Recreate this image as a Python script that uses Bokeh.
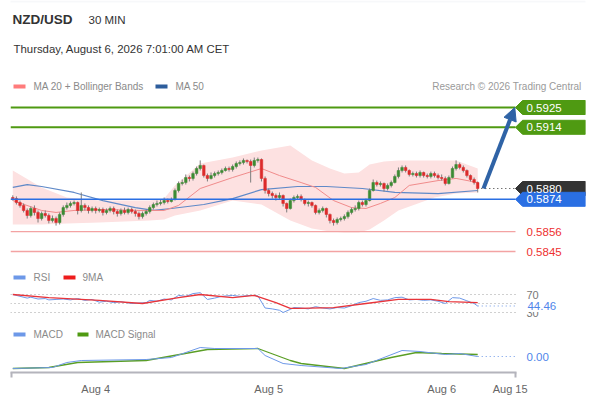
from bokeh.plotting import figure
from bokeh.models import Range1d, FixedTicker, Label, BoxAnnotation, Arrow, NormalHead
from bokeh.embed import file_html
from bokeh.resources import INLINE

FONT = "Liberation Sans"

# ---------------- data ----------------
first_open = 0.58750
closes = [
    0.58744, 0.58722, 0.58706, 0.58678, 0.58650, 0.58689, 0.58667, 0.58633, 0.58661, 0.58650,
    0.58622, 0.58633, 0.58611, 0.58656, 0.58694, 0.58706, 0.58717, 0.58722, 0.58678, 0.58706,
    0.58694, 0.58678, 0.58689, 0.58678, 0.58683, 0.58667, 0.58678, 0.58689, 0.58672, 0.58661,
    0.58678, 0.58667, 0.58683, 0.58672, 0.58661, 0.58644, 0.58661, 0.58672, 0.58694, 0.58711,
    0.58717, 0.58722, 0.58733, 0.58728, 0.58739, 0.58789, 0.58828, 0.58833, 0.58861, 0.58856,
    0.58883, 0.58911, 0.58928, 0.58872, 0.58856, 0.58872, 0.58883, 0.58889, 0.58900, 0.58911,
    0.58906, 0.58922, 0.58939, 0.58944, 0.58956, 0.58950, 0.58928, 0.58956, 0.58961, 0.58856,
    0.58789, 0.58772, 0.58761, 0.58750, 0.58761, 0.58717, 0.58689, 0.58733, 0.58750, 0.58756,
    0.58739, 0.58717, 0.58722, 0.58706, 0.58667, 0.58678, 0.58689, 0.58656, 0.58622, 0.58611,
    0.58628, 0.58633, 0.58644, 0.58667, 0.58683, 0.58689, 0.58722, 0.58711, 0.58733, 0.58789,
    0.58833, 0.58822, 0.58828, 0.58800, 0.58817, 0.58833, 0.58867, 0.58900, 0.58917, 0.58900,
    0.58878, 0.58883, 0.58872, 0.58889, 0.58872, 0.58867, 0.58883, 0.58872, 0.58861, 0.58856,
    0.58828, 0.58861, 0.58911, 0.58933, 0.58917, 0.58900, 0.58872, 0.58850, 0.58833, 0.58800,
]
highs = [
    0.58762, 0.58756, 0.58733, 0.58717, 0.58689, 0.58700, 0.58706, 0.58678, 0.58672, 0.58678,
    0.58661, 0.58650, 0.58644, 0.58667, 0.58706, 0.58722, 0.58728, 0.58733, 0.58728, 0.58778,
    0.58717, 0.58706, 0.58700, 0.58700, 0.58694, 0.58694, 0.58689, 0.58700, 0.58700, 0.58683,
    0.58689, 0.58694, 0.58694, 0.58694, 0.58683, 0.58672, 0.58672, 0.58683, 0.58706, 0.58722,
    0.58733, 0.58739, 0.58750, 0.58744, 0.58750, 0.58800, 0.58839, 0.58850, 0.58878, 0.58872,
    0.58894, 0.58922, 0.58956, 0.58933, 0.58883, 0.58889, 0.58894, 0.58900, 0.58911, 0.58922,
    0.58922, 0.58933, 0.58950, 0.58956, 0.58967, 0.58961, 0.58961, 0.58972, 0.58972, 0.58967,
    0.58867, 0.58800, 0.58783, 0.58772, 0.58778, 0.58767, 0.58722, 0.58744, 0.58761, 0.58767,
    0.58767, 0.58744, 0.58733, 0.58728, 0.58711, 0.58689, 0.58700, 0.58694, 0.58661, 0.58633,
    0.58639, 0.58644, 0.58656, 0.58678, 0.58694, 0.58706, 0.58733, 0.58733, 0.58744, 0.58800,
    0.58850, 0.58844, 0.58839, 0.58833, 0.58828, 0.58844, 0.58878, 0.58917, 0.58928, 0.58928,
    0.58906, 0.58894, 0.58894, 0.58900, 0.58894, 0.58883, 0.58894, 0.58894, 0.58883, 0.58878,
    0.58867, 0.58872, 0.58922, 0.58956, 0.58944, 0.58928, 0.58906, 0.58878, 0.58861, 0.58839,
]
lows = [
    0.58733, 0.58711, 0.58694, 0.58667, 0.58633, 0.58639, 0.58650, 0.58611, 0.58622, 0.58639,
    0.58606, 0.58611, 0.58594, 0.58600, 0.58644, 0.58683, 0.58694, 0.58706, 0.58656, 0.58667,
    0.58678, 0.58661, 0.58667, 0.58661, 0.58667, 0.58650, 0.58656, 0.58667, 0.58656, 0.58644,
    0.58650, 0.58656, 0.58656, 0.58661, 0.58644, 0.58628, 0.58633, 0.58650, 0.58661, 0.58683,
    0.58700, 0.58706, 0.58711, 0.58717, 0.58722, 0.58733, 0.58778, 0.58817, 0.58822, 0.58839,
    0.58844, 0.58872, 0.58900, 0.58861, 0.58839, 0.58850, 0.58861, 0.58872, 0.58878, 0.58894,
    0.58894, 0.58894, 0.58911, 0.58928, 0.58933, 0.58939, 0.58833, 0.58917, 0.58944, 0.58839,
    0.58772, 0.58756, 0.58744, 0.58733, 0.58739, 0.58700, 0.58667, 0.58683, 0.58722, 0.58739,
    0.58728, 0.58706, 0.58700, 0.58694, 0.58656, 0.58656, 0.58667, 0.58639, 0.58606, 0.58594,
    0.58600, 0.58617, 0.58622, 0.58633, 0.58656, 0.58672, 0.58678, 0.58700, 0.58700, 0.58728,
    0.58783, 0.58811, 0.58811, 0.58783, 0.58789, 0.58806, 0.58828, 0.58856, 0.58889, 0.58889,
    0.58867, 0.58867, 0.58861, 0.58861, 0.58861, 0.58856, 0.58856, 0.58861, 0.58850, 0.58844,
    0.58817, 0.58822, 0.58856, 0.58900, 0.58906, 0.58889, 0.58861, 0.58839, 0.58822, 0.58778,
]

ma20_idx = [0, 8, 12, 17, 26, 35, 42, 46, 52, 61, 69, 74, 80, 84, 89, 94, 98, 102, 106, 110, 118, 123, 129]
ma20_val = [0.58733, 0.58678, 0.58667, 0.58678, 0.58683, 0.58678, 0.58678, 0.58706, 0.58800, 0.58861,
            0.58911, 0.58872, 0.58833, 0.58806, 0.58733, 0.58694, 0.58689, 0.58717, 0.58750, 0.58817,
            0.58844, 0.58856, 0.58833]

ma50_idx = [0, 4, 8, 17, 25, 34, 39, 44, 53, 61, 69, 79, 87, 97, 106, 118, 129]
ma50_val = [0.58806, 0.58822, 0.58811, 0.58778, 0.58733, 0.58694, 0.58678, 0.58689, 0.58711, 0.58744,
            0.58794, 0.58811, 0.58811, 0.58800, 0.58778, 0.58772, 0.58789]

bb_idx = [0, 8, 15, 24, 38, 42, 45, 52, 61, 69, 77, 83, 88, 92, 96, 99, 103, 107, 117, 123, 129]
bb_upper = [0.58900, 0.58806, 0.58750, 0.58733, 0.58733, 0.58744, 0.58817, 0.58939, 0.58972, 0.59011,
            0.59039, 0.58956, 0.58911, 0.58883, 0.58889, 0.58933, 0.58950, 0.58956, 0.58956, 0.58956,
            0.58911]
bb_lower = [0.58600, 0.58600, 0.58606, 0.58611, 0.58622, 0.58628, 0.58650, 0.58678, 0.58733, 0.58711,
            0.58622, 0.58578, 0.58561, 0.58556, 0.58556, 0.58572, 0.58622, 0.58678, 0.58750, 0.58772,
            0.58778]

rsi_idx = [0, 2, 4, 5, 7, 9, 10, 12, 14, 16, 18, 20, 22, 24, 26, 28, 30, 33, 35, 37,
           38, 40, 42, 44, 46, 48, 50, 52, 54, 56, 58, 61, 63, 66, 68, 70, 72, 74, 75, 77,
           78, 80, 82, 84, 86, 88, 90, 92, 94, 96, 98, 100, 102, 104, 106, 108, 110, 112, 114, 116,
           118, 120, 122, 124, 126, 128, 129]
rsi_val = [70, 66, 62, 64, 60, 61, 58, 59, 60, 58, 61, 57, 59, 53, 55, 52, 54, 50, 51, 52,
           57, 55, 60, 58, 68, 66, 72, 74, 59, 62, 66, 68, 66, 68, 67, 40, 38, 35, 30, 37,
           41, 40, 38, 43, 40, 38, 41, 40, 45, 52, 55, 61, 57, 58, 63, 64, 58, 59, 57, 58,
           55, 50, 63, 62, 56, 50, 44.46]
rsi_ma_idx = [0, 10, 24, 36, 46, 52, 61, 67, 73, 77, 79, 89, 98, 107, 116, 121, 129]
rsi_ma_val = [70, 63, 57, 50, 63, 70, 63, 68, 52, 39, 39, 41, 50, 59, 59, 54, 52]
rsi_levels = [70, 50, 30]
rsi_level_labels = ["70", "", "30"]

macd_idx = [0, 11, 15, 19, 37, 44, 52, 56, 68, 70, 75, 80, 91, 98, 103, 108, 113, 120, 124, 129]
macd_val = [-0.00012, -0.00011, -0.00006, -0.00004, -0.00003, -0.00001, 0.00009, 0.00008, 0.00008, 0.00001,
            -0.00007, -0.00009, -0.00012, -0.00008, -0.00001, 0.00006, 0.00005, 0.00002, 0.00003, 0.00000]
signal_idx = [0, 10, 18, 37, 54, 68, 77, 80, 92, 105, 112, 119, 129]
signal_val = [-0.00012, -0.00011, -0.00006, -0.00004, 0.00007, 0.00008, -0.00004, -0.00007, -0.00012,
              -0.00001, 0.00004, 0.00003, 0.00002]

resistances = [0.5925, 0.5914]
supports = [0.5856, 0.5845]
pivot = 0.5874
last_price = 0.5880

tick_idx = [23, 71, 119, 138]
tick_labels = ["Aug 4", "Aug 5", "Aug 6", "Aug 15"]

# ---------------- geometry / styles ----------------
FIG_W, FIG_H = 590, 400
FRAME_L, FRAME_R, FRAME_T, FRAME_B = 10, 585, 0, 372      # page pixels (page has no margin)
X_FIRST, DX = 12.3, 3.604                                 # page x of candle 0, px per candle
AXIS_END_X = 516
TIP_X, BODY_X, TEXT_X = 515, 522, 526

PRICE_REF, PRICE_REF_Y, PX_PER_PRICE = 0.5925, 107.0, 18000.0
RSI_REF, RSI_REF_Y, PX_PER_RSI = 50.0, 303.0, 0.45
MACD_REF_Y, PX_PER_MACD = 356.0, 100000.0
BOX_H = 14

GREEN_LVL = "#4f9a12"
BLUE_LVL = "#2a6fe3"
RED_LVL = "#f3a3a3"
RED_TXT = "#ee3030"
UP_C, DOWN_C, WICK_C = "#3d8b34", "#dc2b2b", "#7d7d7d"
GRAY_TXT = "#8a8a8a"
RSI_C, RSI_MA_C = "#6d98e8", "#e8343a"
MACD_C, SIG_C = "#6d98e8", "#5a9e25"
ARROW_C = "#2f63a6"


def ix(px):
    return (px - X_FIRST) / DX


def price_at(py):
    return PRICE_REF + (PRICE_REF_Y - py) / PX_PER_PRICE


def rsi_at(py):
    return RSI_REF + (RSI_REF_Y - py) / PX_PER_RSI


def macd_at(py):
    return (MACD_REF_Y - py) / PX_PER_MACD


p = figure(width=FIG_W, height=FIG_H,
           x_range=Range1d(ix(FRAME_L), ix(FRAME_R)),
           y_range=Range1d(price_at(FRAME_B), price_at(FRAME_T)),
           output_backend="svg", toolbar_location=None, y_axis_location=None,
           min_border_left=FRAME_L, min_border_right=FIG_W - FRAME_R, min_border_top=FRAME_T,
           min_border_bottom=FIG_H - FRAME_B,
           outline_line_color=None, background_fill_color="white", border_fill_color="white")
p.extra_y_ranges = {"rsi": Range1d(rsi_at(FRAME_B), rsi_at(FRAME_T)),
                    "macd": Range1d(macd_at(FRAME_B), macd_at(FRAME_T))}
p.xgrid.visible = False
p.ygrid.visible = False

# x axis
ax = p.xaxis[0]
ax.ticker = FixedTicker(ticks=tick_idx, minor_ticks=[ix(FRAME_L) + 0.15, ix(AXIS_END_X) - 0.15])
ax.major_label_overrides = {t: lab for t, lab in zip(tick_idx, tick_labels)}
ax.bounds = (ix(FRAME_L), ix(AXIS_END_X))
ax.axis_line_color = "#b4b4bc"
ax.axis_line_width = 2
ax.major_tick_line_color = None
ax.major_tick_out = 0
ax.major_tick_in = 0
ax.minor_tick_line_color = "#b4b4bc"
ax.minor_tick_line_width = 2
ax.minor_tick_out = 5
ax.minor_tick_in = 0
ax.major_label_standoff = 5
ax.major_label_text_font = FONT
ax.major_label_text_font_size = "11px"
ax.major_label_text_color = "#666666"

# ---------------- price panel ----------------
p.varea(x=bb_idx, y1=bb_lower, y2=bb_upper, fill_color="#fde1e1", fill_alpha=1.0)
p.line(ma50_idx, ma50_val, line_color="#5f89c8", line_width=1.2)
p.line(ma20_idx, ma20_val, line_color="#f08b8b", line_width=1.0)

x_left = ix(FRAME_L)
x_tip = ix(TIP_X)
x_body = ix(BODY_X)
x_right = ix(FRAME_R)

# support lines
p.segment(x0=[x_left] * len(supports), x1=[x_tip] * len(supports), y0=supports, y1=supports,
          line_color=RED_LVL, line_width=1.3)

# candles
n = len(closes)
idx = list(range(n))
opens = [first_open] + closes[:-1]
cols = [UP_C if c >= o else DOWN_C for o, c in zip(opens, closes)]
tops = [max(o, c) for o, c in zip(opens, closes)]
bots = [min(o, c) for o, c in zip(opens, closes)]
p.segment(x0=idx, x1=idx, y0=lows, y1=highs, line_color=WICK_C, line_width=1)
p.vbar(x=idx, width=0.72, top=tops, bottom=bots, fill_color=cols, line_color=cols, line_width=0.5)

# resistance / pivot lines
p.segment(x0=[x_left] * len(resistances), x1=[x_tip] * len(resistances), y0=resistances, y1=resistances,
          line_color=GREEN_LVL, line_width=2)
p.segment(x0=[x_left], x1=[x_tip], y0=[pivot], y1=[pivot], line_color=BLUE_LVL, line_width=1.5)
p.segment(x0=[n], x1=[x_tip], y0=[last_price], y1=[last_price], line_color="#333333",
          line_width=1, line_dash="1 3")

# label boxes
half = BOX_H / 2 / PX_PER_PRICE


def box(level):
    return ([x_tip, x_body, x_right, x_right, x_body],
            [level, level + half, level + half, level - half, level - half])


box_levels = resistances + [last_price, pivot]
box_cols = [GREEN_LVL, GREEN_LVL, "#333333", BLUE_LVL]
xs, ys = zip(*[box(v) for v in box_levels])
p.patches(xs=list(xs), ys=list(ys), fill_color=box_cols, line_color=box_cols)
for v in box_levels:
    p.add_layout(Label(x=ix(TEXT_X), y=v, text=f"{v:.4f}", text_font=FONT, text_font_size="11.5px",
                       text_color="white", text_baseline="middle"))
for v in supports:
    p.add_layout(Label(x=ix(TEXT_X), y=v, text=f"{v:.4f}", text_font=FONT, text_font_size="11.5px",
                       text_color=RED_TXT, text_baseline="middle"))

# arrow
p.add_layout(Arrow(end=NormalHead(size=13, fill_color=ARROW_C, line_color=ARROW_C),
                   x_start=n + 0.6, y_start=last_price, x_end=x_tip - 0.2, y_end=resistances[0],
                   line_color=ARROW_C, line_width=4))

# ---------------- RSI panel ----------------
p.segment(x0=[x_left] * 3, x1=[ix(AXIS_END_X)] * 3, y0=rsi_levels, y1=rsi_levels,
          line_color="#a0a0a0", line_width=1, line_dash="1 3", y_range_name="rsi")
p.segment(x0=[rsi_idx[-1]], x1=[ix(AXIS_END_X)], y0=[rsi_val[-1]], y1=[rsi_val[-1]],
          line_color=RSI_C, line_width=1, line_dash="1 3", y_range_name="rsi")
p.line(rsi_idx, rsi_val, line_color=RSI_C, line_width=1, y_range_name="rsi")
p.line(rsi_ma_idx, rsi_ma_val, line_color=RSI_MA_C, line_width=1.3, y_range_name="rsi")
for lv, lab in zip(rsi_levels, rsi_level_labels):
    if lab:
        p.add_layout(Label(x=ix(TEXT_X), y=lv, text=lab, text_font=FONT, text_font_size="11px",
                           text_color="#777777", text_baseline="middle", y_range_name="rsi"))
p.add_layout(Label(x=ix(TEXT_X) - 0.3, y=rsi_val[-1], text=f"{rsi_val[-1]:.2f}", text_font=FONT,
                   text_font_size="11.5px", text_color="#4f86ea", text_baseline="middle",
                   background_fill_color="white", padding=2, y_range_name="rsi"))

# ---------------- MACD panel ----------------
p.segment(x0=[macd_idx[-1]], x1=[ix(AXIS_END_X)], y0=[macd_val[-1]], y1=[macd_val[-1]],
          line_color=MACD_C, line_width=1, line_dash="1 3", y_range_name="macd")
p.line(signal_idx, signal_val, line_color=SIG_C, line_width=1.3, y_range_name="macd")
p.line(macd_idx, macd_val, line_color=MACD_C, line_width=1, y_range_name="macd")
p.add_layout(Label(x=ix(TEXT_X), y=macd_val[-1], text=f"{macd_val[-1]:.2f}", text_font=FONT,
                   text_font_size="11.5px", text_color="#4f86ea", text_baseline="middle",
                   y_range_name="macd"))


# ---------------- header & legends (screen units relative to frame) ----------------
def txt(xp, yp, s, size, color, bold=False, align="left"):
    p.add_layout(Label(x=xp - FRAME_L, y=FRAME_B - yp, x_units="screen", y_units="screen", text=s,
                       text_font=FONT, text_font_size=f"{size}px", text_color=color,
                       text_font_style="bold" if bold else "normal", text_align=align,
                       text_baseline="middle"))


def swatch(x0, x1, yp, color):
    p.add_layout(BoxAnnotation(left=x0 - FRAME_L, right=x1 - FRAME_L, bottom=FRAME_B - yp - 2,
                               top=FRAME_B - yp + 2, left_units="screen", right_units="screen",
                               top_units="screen", bottom_units="screen",
                               fill_color=color, fill_alpha=1.0, line_color=None))


txt(12, 19, "NZD/USD", 13.5, "#333333", bold=True)
txt(88, 19, "30 MIN", 11.5, "#333333")
txt(13, 48, "Thursday, August 6, 2026 7:01:00 AM CET", 11.4, "#333333")

swatch(13, 25, 86, "#ff7b7b")
txt(33, 86, "MA 20 + Bollinger Bands", 10, GRAY_TXT)
swatch(155, 167, 86, "#2d5d9c")
txt(175, 86, "MA 50", 10, GRAY_TXT)
txt(581, 86, "Research \u00a9 2026 Trading Central", 10, "#9a9a9a", align="right")

swatch(13, 25, 277, RSI_C)
txt(33, 277, "RSI", 10, GRAY_TXT)
swatch(63, 75, 277, "#ee1c1c")
txt(82, 277, "9MA", 10, GRAY_TXT)

swatch(13, 25, 334, RSI_C)
txt(33, 334, "MACD", 10, GRAY_TXT)
swatch(77, 88, 334, "#4f9a12")
txt(95, 334, "MACD Signal", 10, GRAY_TXT)

# light outer frame of the whole card
p.add_layout(BoxAnnotation(left=-FRAME_L + 1, right=FIG_W - FRAME_L - 1, bottom=FRAME_B - FIG_H + 1,
                           top=FRAME_B - 1, left_units="screen", right_units="screen",
                           top_units="screen", bottom_units="screen",
                           fill_alpha=0.0, line_color="#e4e9ee", line_width=2))

open("out.html", "w").write(file_html(p, INLINE))
